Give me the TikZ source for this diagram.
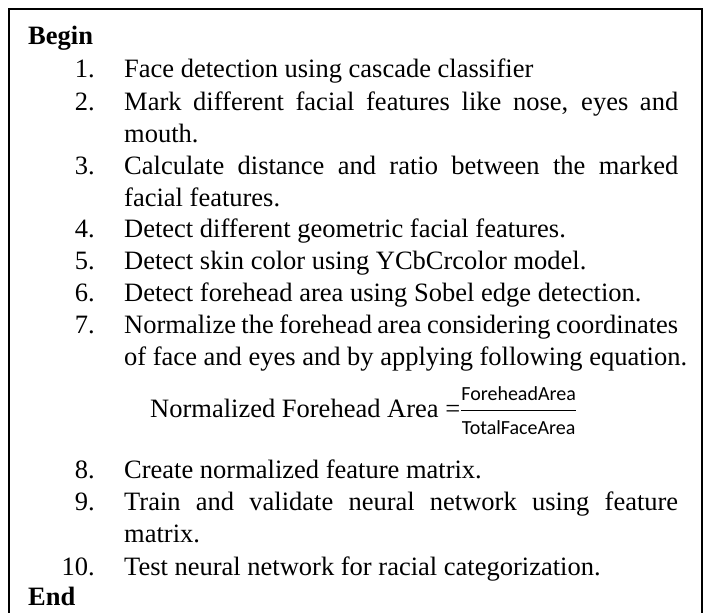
\documentclass[tikz,border=0pt]{standalone}
\usepackage{amsmath}
\usepackage{fontspec}
\setmainfont{Liberation Serif}
\newfontfamily\eqfont{Carlito}
\usetikzlibrary{positioning}

\tikzset{
    algobox/.style={draw=black, line width=2.7pt},
    keyword/.style={anchor=base west, inner sep=0pt, font=\fontsize{26.5}{32}\selectfont\bfseries},
    stepnum/.style={anchor=base east, inner sep=0pt, font=\fontsize{26.5}{32}\selectfont},
    steptext/.style={anchor=base west, inner sep=0pt, font=\fontsize{26.5}{32}\selectfont},
}
% justified first line of a wrapped step
\newcommand{\fullline}[1]{\makebox[554pt][s]{#1}}
\newcommand{\eqpart}[1]{\mbox{\fontsize{20}{24}\selectfont\eqfont #1}}

\begin{document}
\begin{tikzpicture}[x=1pt, y=-1pt]
    \clip (0,0) rectangle (705,613);
	\draw[algobox] (9,640) -- (9,9) -- (702,9) -- (702,640);
	\node[keyword] (begin) at (28,44) {Begin};
	\node[stepnum] (n1) at (95,77) {1.};
	\node[steptext] (t1) at (124,77) {Face detection using cascade classifier};
	\node[stepnum] (n2) at (95,110) {2.};
	\node[steptext] (t2) at (124,110) {\fullline{Mark different facial features like nose, eyes and}};
	\node[steptext] (t2b) at (124,142) {mouth.};
	\node[stepnum] (n3) at (95,174) {3.};
	\node[steptext] (t3) at (124,174) {\fullline{Calculate distance and ratio between the marked}};
	\node[steptext] (t3b) at (124,206) {facial features.};
	\node[stepnum] (n4) at (95,237) {4.};
	\node[steptext] (t4) at (124,237) {Detect different geometric facial features.};
	\node[stepnum] (n5) at (95,269) {5.};
	\node[steptext] (t5) at (124,269) {Detect skin color using YCbCrcolor model.};
	\node[stepnum] (n6) at (95,301) {6.};
	\node[steptext] (t6) at (124,301) {Detect forehead area using Sobel edge detection.};
	\node[stepnum] (n7) at (95,333) {7.};
	\node[steptext] (t7) at (124,333) {\fullline{Normalize the forehead area considering coordinates}};
	\node[steptext] (t7b) at (124,365) {of face and eyes and by applying following equation.};
	% the equation of step 7
	\node[steptext] (eq) at (150,417) {Normalized Forehead Area =$\genfrac{}{}{1.3pt}{0}{\eqpart{ForeheadArea}}{\eqpart{TotalFaceArea}}$};
	\node[stepnum] (n8) at (95,478) {8.};
	\node[steptext] (t8) at (124,478) {Create normalized feature matrix.};
	\node[stepnum] (n9) at (95,510) {9.};
	\node[steptext] (t9) at (124,510) {\fullline{Train and validate neural network using feature}};
	\node[steptext] (t9b) at (124,542) {matrix.};
	\node[stepnum] (n10) at (95,575) {10.};
	\node[steptext] (t10) at (124,575) {Test neural network for racial categorization.};
	\node[keyword] (end) at (28,605) {End};
\end{tikzpicture}
\end{document}
